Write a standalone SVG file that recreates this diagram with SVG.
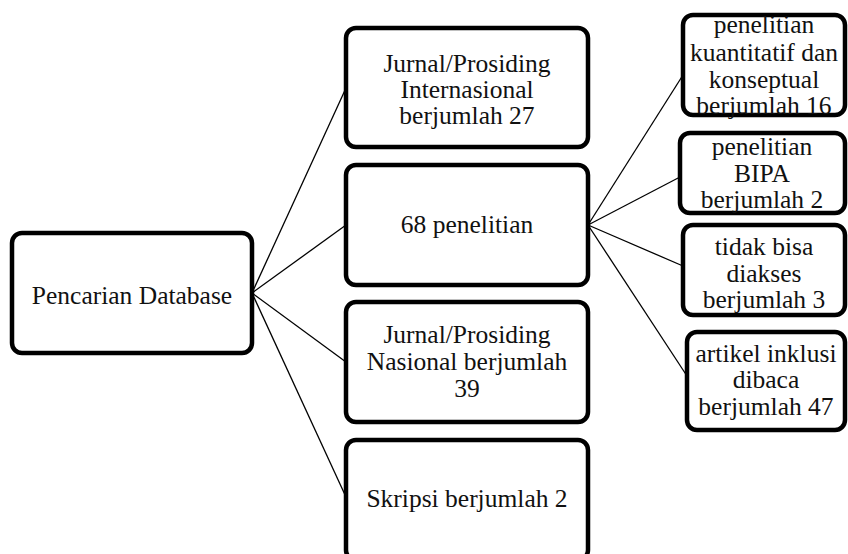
<svg xmlns="http://www.w3.org/2000/svg" width="848" height="554" viewBox="0 0 848 554">
<style>
.box{fill:#fff;stroke:#000;stroke-width:4.5}
.t{font-family:'Liberation Serif','DejaVu Serif',serif;font-size:25.5px;fill:#111;text-anchor:middle}
.c line{stroke:#000;stroke-width:1.3}
</style>
<rect width="848" height="554" fill="#fff"/>
<g class="c" id="connectors">
<line x1="252" y1="293" x2="346" y2="88"/>
<line x1="252" y1="293" x2="346" y2="225"/>
<line x1="252" y1="293" x2="346" y2="362"/>
<line x1="252" y1="293" x2="346" y2="497"/>
<line x1="588" y1="225" x2="683" y2="75"/>
<line x1="588" y1="225" x2="680" y2="177"/>
<line x1="588" y1="225" x2="683" y2="266"/>
<line x1="588" y1="225" x2="687" y2="376"/>
</g>
<g id="n-pencarian">
<rect class="box" x="12" y="233" width="240" height="120" rx="10"/>
<text class="t" x="132" y="304">Pencarian Database</text>
</g>
<g id="n-internasional">
<rect class="box" x="346" y="28" width="242" height="119" rx="10"/>
<text class="t" x="467" y="72">Jurnal/Prosiding</text>
<text class="t" x="467" y="98">Internasional</text>
<text class="t" x="467" y="124">berjumlah 27</text>
</g>
<g id="n-68">
<rect class="box" x="346" y="165" width="242" height="120" rx="10"/>
<text class="t" x="467" y="233">68 penelitian</text>
</g>
<g id="n-nasional">
<rect class="box" x="346" y="302" width="242" height="120" rx="10"/>
<text class="t" x="467" y="343">Jurnal/Prosiding</text>
<text class="t" x="467" y="370">Nasional berjumlah</text>
<text class="t" x="467" y="397">39</text>
</g>
<g id="n-skripsi">
<rect class="box" x="346" y="440" width="242" height="120" rx="10"/>
<text class="t" x="467" y="507">Skripsi berjumlah 2</text>
</g>
<g id="n-kuantitatif">
<rect class="box" x="683" y="15" width="162" height="100" rx="10"/>
<text class="t" x="764" y="33">penelitian</text>
<text class="t" x="764" y="61">kuantitatif dan</text>
<text class="t" x="764" y="88">konseptual</text>
<text class="t" x="764" y="114">berjumlah  16</text>
</g>
<g id="n-bipa">
<rect class="box" x="680" y="133" width="165" height="80" rx="10"/>
<text class="t" x="762" y="155">penelitian</text>
<text class="t" x="762" y="182">BIPA</text>
<text class="t" x="762" y="208">berjumlah 2</text>
</g>
<g id="n-akses">
<rect class="box" x="683" y="225" width="162" height="90" rx="10"/>
<text class="t" x="764" y="255">tidak bisa</text>
<text class="t" x="764" y="282">diakses</text>
<text class="t" x="764" y="308">berjumlah 3</text>
</g>
<g id="n-inklusi">
<rect class="box" x="687" y="332" width="158" height="98" rx="10"/>
<text class="t" x="766" y="362">artikel inklusi</text>
<text class="t" x="766" y="388">dibaca</text>
<text class="t" x="766" y="415">berjumlah 47</text>
</g>
</svg>
